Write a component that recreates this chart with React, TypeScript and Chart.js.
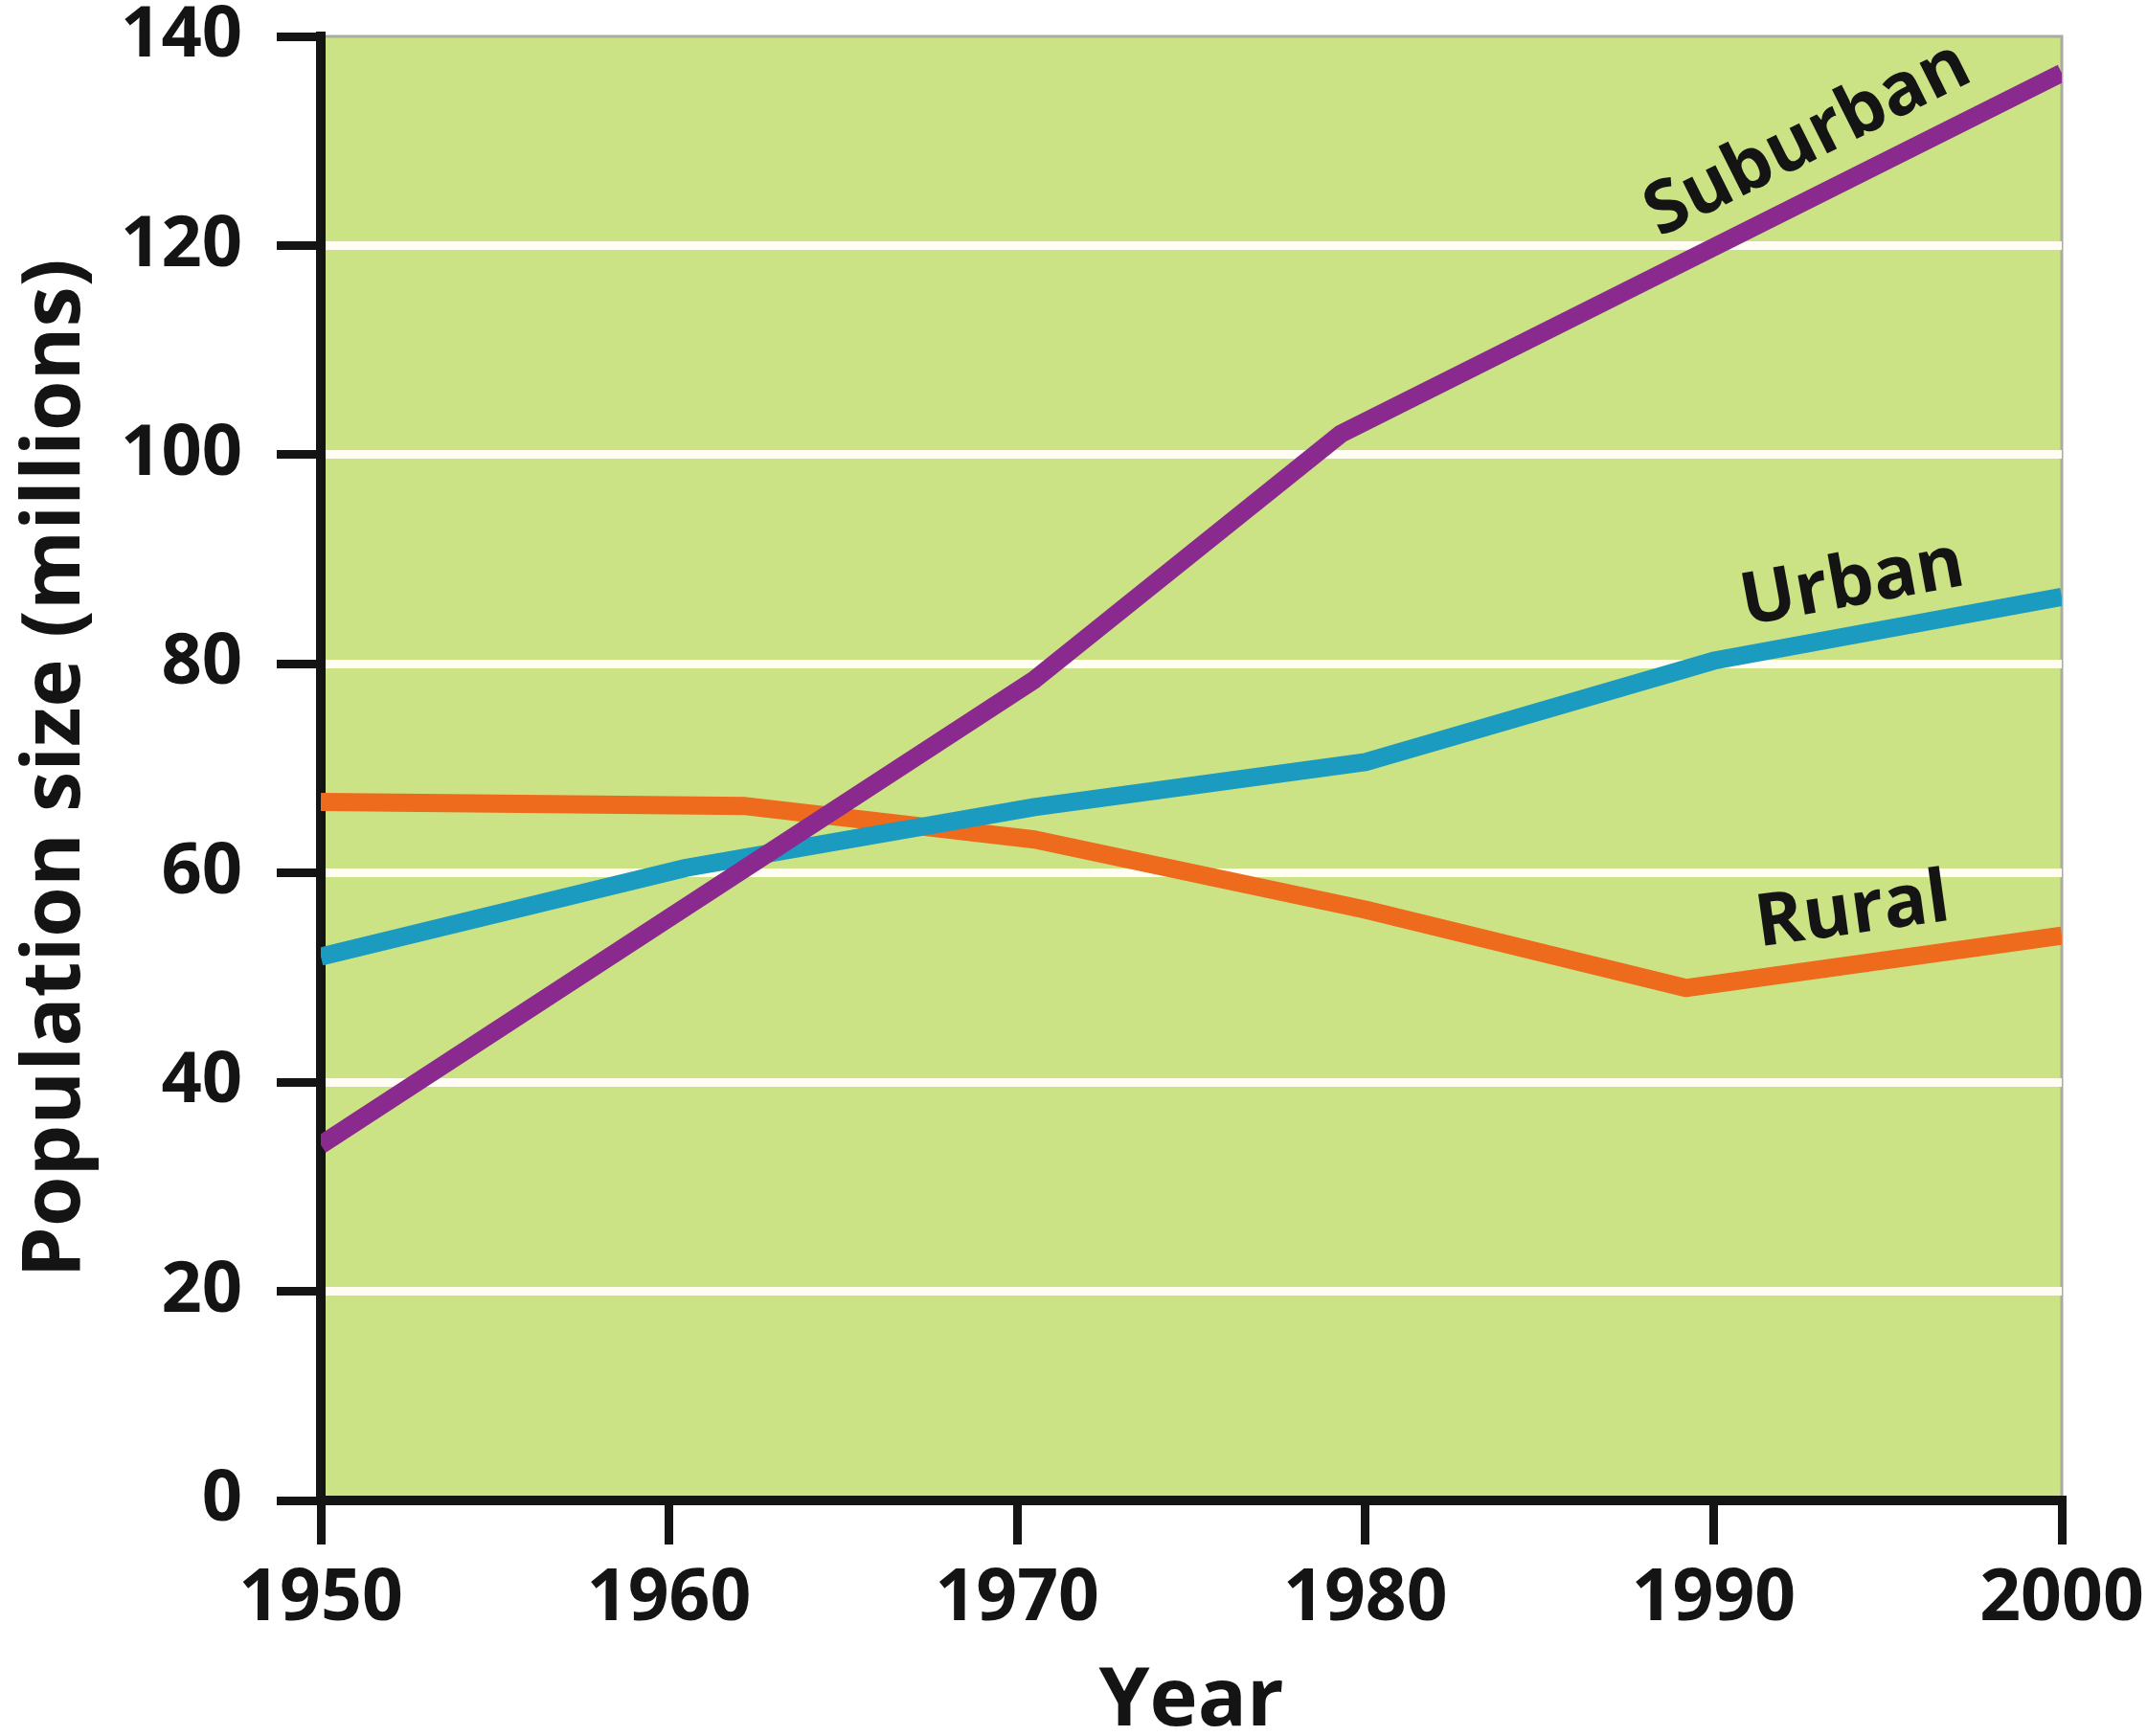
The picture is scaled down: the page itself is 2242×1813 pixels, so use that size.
import React, { useEffect, useRef } from 'react';
import { Chart, registerables } from 'chart.js';

Chart.register(...registerables);

// ---- Data ----
const xTickYears = [1950, 1960, 1970, 1980, 1990, 2000];
const yTickValues = [0, 20, 40, 60, 80, 100, 120, 140];

const suburbanYears = [1950, 1970.5, 1979.3, 2000];
const suburbanValues = [34, 78.5, 102, 136.5];

const urbanYears = [1950, 1960.5, 1970.5, 1980, 1990, 2000];
const urbanValues = [52, 60.5, 66.3, 70.6, 80.3, 86.4];

const ruralYears = [1950, 1962.2, 1970.5, 1980, 1989.2, 2000];
const ruralValues = [66.8, 66.4, 63.2, 56.5, 49, 54];

const seriesNames = ['Suburban', 'Urban', 'Rural'];
const seriesYears = [suburbanYears, urbanYears, ruralYears];
const seriesValues = [suburbanValues, urbanValues, ruralValues];

// ---- Styling / annotation placement ----
const seriesColors = ['#8b2a8e', '#1b9bc0', '#ee6a1c'];
const labelAnchorYears = [1993.4, 1994.25, 1994.2];
const labelOffsets = [56, 52, 54];
const PLOT_BG = '#cce385';
const GRID_WHITE = '#fffdf2';
const INK = '#141414';
const FONT = "'Open Sans', 'DejaVu Sans', sans-serif";

const backgroundPlugin = {
  id: 'plotBackground',
  beforeDraw(chart: any) {
    const { ctx, chartArea } = chart;
    if (!chartArea) return;
    const { left, top, right, bottom } = chartArea;
    ctx.save();
    ctx.fillStyle = PLOT_BG;
    ctx.fillRect(left, top, right - left, bottom - top);
    ctx.strokeStyle = '#a8aba0';
    ctx.lineWidth = 3;
    ctx.beginPath();
    ctx.moveTo(left, top);
    ctx.lineTo(right, top);
    ctx.lineTo(right, bottom);
    ctx.stroke();
    ctx.restore();
  },
};

const lineLabelPlugin = {
  id: 'lineLabels',
  afterDatasetsDraw(chart: any) {
    const { ctx } = chart;
    const xs = chart.scales.x;
    const ys = chart.scales.y;
    ctx.save();
    ctx.fillStyle = INK;
    ctx.font = `bold 76px ${FONT}`;
    ctx.textAlign = 'center';
    ctx.textBaseline = 'middle';
    seriesNames.forEach((name, i) => {
      const yrs = seriesYears[i];
      const vals = seriesValues[i];
      const yr = labelAnchorYears[i];
      let k = 0;
      while (k < yrs.length - 2 && yrs[k + 1] < yr) k++;
      const x0 = xs.getPixelForValue(yrs[k]);
      const y0 = ys.getPixelForValue(vals[k]);
      const x1 = xs.getPixelForValue(yrs[k + 1]);
      const y1 = ys.getPixelForValue(vals[k + 1]);
      const t = (xs.getPixelForValue(yr) - x0) / (x1 - x0);
      const px = x0 + t * (x1 - x0);
      const py = y0 + t * (y1 - y0);
      const ang = Math.atan2(y1 - y0, x1 - x0);
      const d = labelOffsets[i];
      const cx = px + Math.sin(ang) * d;
      const cy = py - Math.cos(ang) * d;
      ctx.save();
      ctx.translate(cx, cy);
      ctx.rotate(ang);
      ctx.fillText(name, 0, 0);
      ctx.restore();
    });
    ctx.restore();
  },
};

export default function App() {
  const canvasRef = useRef<HTMLCanvasElement | null>(null);

  useEffect(() => {
    if (!canvasRef.current) return;
    Chart.defaults.font.family = FONT;
    const datasets = seriesNames.map((name, i) => ({
      label: name,
      data: seriesYears[i].map((yr, j) => ({ x: yr, y: seriesValues[i][j] })),
      borderColor: seriesColors[i],
      backgroundColor: seriesColors[i],
      borderWidth: 19,
      pointRadius: 0,
      pointHoverRadius: 0,
      tension: 0,
      fill: false,
      borderJoinStyle: 'round' as const,
    }));

    const chart = new Chart(canvasRef.current, {
      type: 'line',
      data: { datasets },
      options: {
        responsive: false,
        animation: false,
        devicePixelRatio: 1,
        layout: { padding: { left: 0, top: 38, right: 89, bottom: 0 } },
        plugins: {
          legend: { display: false },
          tooltip: { enabled: false },
        },
        scales: {
          x: {
            type: 'linear',
            min: xTickYears[0],
            max: xTickYears[xTickYears.length - 1],
            afterBuildTicks: (s: any) => {
              s.ticks = xTickYears.map((v) => ({ value: v }));
            },
            afterFit: (s: any) => {
              s.height = 246;
              s.paddingLeft = 0;
              s.paddingRight = 0;
            },
            ticks: {
              callback: (v: any) => String(v),
              font: { family: FONT, size: 75, weight: 'bold', lineHeight: 1 },
              color: INK,
              padding: 20,
              maxRotation: 0,
              autoSkip: false,
            },
            grid: {
              drawOnChartArea: false,
              drawTicks: true,
              tickLength: 46,
              tickWidth: 9,
              tickColor: INK,
              lineWidth: 9,
              color: INK,
            },
            border: { display: true, color: INK, width: 10 },
            title: {
              display: true,
              text: 'Year',
              color: INK,
              font: { family: FONT, size: 85, weight: 'bold', lineHeight: 1 },
              padding: { top: 0, bottom: -7 },
            },
          },
          y: {
            type: 'linear',
            min: yTickValues[0],
            max: yTickValues[yTickValues.length - 1],
            afterBuildTicks: (s: any) => {
              s.ticks = yTickValues.map((v) => ({ value: v }));
            },
            afterFit: (s: any) => {
              s.width = 335;
              s.paddingTop = 0;
              s.paddingBottom = 0;
            },
            ticks: {
              font: { family: FONT, size: 74, weight: 'bold', lineHeight: 1 },
              color: INK,
              padding: 36,
            },
            grid: {
              drawOnChartArea: true,
              drawTicks: true,
              tickLength: 46,
              tickWidth: 9,
              tickColor: INK,
              lineWidth: 9,
              color: (c: any) =>
                c.tick && c.tick.value > yTickValues[0] && c.tick.value < yTickValues[yTickValues.length - 1]
                  ? GRID_WHITE
                  : 'rgba(0,0,0,0)',
            },
            border: { display: true, color: INK, width: 10 },
            title: {
              display: true,
              text: 'Population size (millions)',
              color: INK,
              font: { family: FONT, size: 85, weight: 'bold', lineHeight: 1 },
              padding: { top: 16, bottom: 0 },
            },
          },
        },
      } as any,
      plugins: [backgroundPlugin, lineLabelPlugin],
    });
    return () => chart.destroy();
  }, []);

  return (
    <div style={{ position: 'absolute', left: 0, top: 0, width: 2242, height: 1813, background: '#fff' }}>
      <canvas ref={canvasRef} width={2242} height={1813} style={{ display: 'block' }} />
    </div>
  );
}
